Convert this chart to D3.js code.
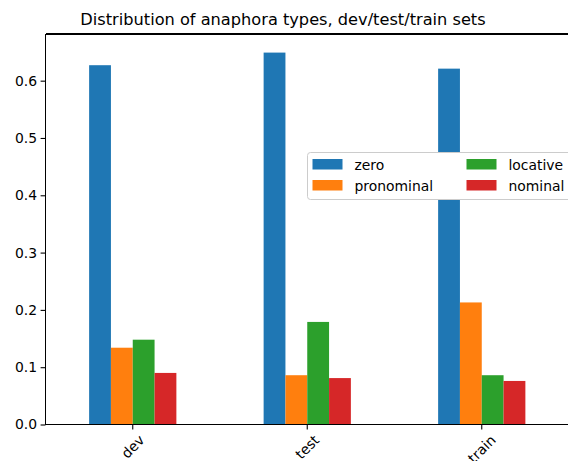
<!DOCTYPE html>
<html>
<head>
<meta charset="utf-8">
<script src="https://cdn.jsdelivr.net/npm/d3@7"></script>
<style>
  body { margin: 0; background: #fff; }
  svg { display: block; font-family: "DejaVu Sans", sans-serif; }
</style>
</head>
<body>
<div id="canvas"></div>
<script>
var W = 568, H = 461;
var m = {t: 34, r: -1, b: 36.5, l: 45.5};

// data
var sets = ['dev', 'test', 'train'];
var types = ['zero', 'pronominal', 'locative', 'nominal'];
var zero = [0.627, 0.649, 0.621];
var pronominal = [0.134, 0.086, 0.213];
var locative = [0.148, 0.179, 0.086];
var nominal = [0.090, 0.081, 0.076];
var yTicks = [0, 0.1, 0.2, 0.3, 0.4, 0.5, 0.6];
var colors = ['#1f77b4', '#ff7f0e', '#2ca02c', '#d62728'];

var series = [zero, pronominal, locative, nominal];
var rows = sets.map(function(s, i){
    return {set: s, values: types.map(function(t, j){ return {type: t, v: series[j][i]}; })};
});

var svg = d3.select('#canvas').append('svg')
    .attr('width', W).attr('height', H);

var x = d3.scaleBand().domain(sets).range([m.l, W - m.r]).padding(0);
var x1 = d3.scaleBand().domain(types)
    .range([x.bandwidth() * 0.25, x.bandwidth() * 0.75]).padding(0);
var ymax = d3.max(series, function(s){ return d3.max(s); }) * 1.05;
var y = d3.scaleLinear().domain([0, ymax]).range([H - m.b, m.t]);
var color = d3.scaleOrdinal().domain(types).range(colors);

// bars
var g = svg.selectAll('.grp').data(rows).enter().append('g')
    .attr('class', 'grp')
    .attr('transform', function(d){ return 'translate(' + x(d.set) + ',0)'; });
g.selectAll('rect').data(function(d){ return d.values; }).enter().append('rect')
    .attr('x', function(d){ return x1(d.type); })
    .attr('width', x1.bandwidth())
    .attr('y', function(d){ return y(d.v); })
    .attr('height', function(d){ return y(0) - y(d.v); })
    .attr('fill', function(d){ return color(d.type); });

// y axis
var yAxis = svg.append('g')
    .attr('transform', 'translate(' + m.l + ',0)')
    .call(d3.axisLeft(y).tickValues(yTicks).tickFormat(d3.format('.1f'))
        .tickSize(4.9).tickPadding(3.5));
yAxis.select('.domain').remove();
yAxis.selectAll('line').attr('stroke', '#000').attr('stroke-width', 1.1);
yAxis.selectAll('text').attr('font-size', '13.9px').attr('fill', '#000')
    .attr('font-family', 'DejaVu Sans');

// x axis ticks
var xAxis = svg.append('g')
    .attr('transform', 'translate(0,' + (H - m.b) + ')')
    .call(d3.axisBottom(x).tickSize(4.9).tickFormat(''));
xAxis.select('.domain').remove();
xAxis.selectAll('line').attr('stroke', '#000').attr('stroke-width', 1.1);

// rotated x labels, bbox centred on tick
sets.forEach(function(s){
    var t = svg.append('text').text(s)
        .attr('font-size', '13.9px').attr('fill', '#000')
        .attr('text-anchor', 'middle').attr('dominant-baseline', 'central');
    var w = t.node().getComputedTextLength(), hh = 13;
    var bh = (w + hh) * Math.SQRT1_2;
    var cx = x(s) + x.bandwidth() / 2;
    var cy = H - m.b + 4.9 + 3.5 + bh / 2;
    t.attr('transform', 'translate(' + cx + ',' + cy + ') rotate(-45)');
});

// spines
var sp = svg.append('g').attr('stroke', '#000').attr('stroke-width', 1.1)
    .attr('fill', 'none').attr('shape-rendering', 'crispEdges');
sp.append('line').attr('x1', m.l).attr('x2', m.l).attr('y1', m.t).attr('y2', H - m.b);
sp.append('line').attr('x1', m.l).attr('x2', W).attr('y1', m.t).attr('y2', m.t);
sp.append('line').attr('x1', m.l).attr('x2', W).attr('y1', H - m.b).attr('y2', H - m.b);

// title
svg.append('text').attr('x', 283).attr('y', 25)
    .attr('text-anchor', 'middle').attr('font-size', '16.2px').attr('fill', '#000')
    .text('Distribution of anaphora types, dev/test/train sets');

// legend
var lg = svg.append('g').attr('transform', 'translate(307.5,152.5)');
lg.append('rect').attr('width', 265).attr('height', 47).attr('rx', 3)
    .attr('fill', '#fff')
    .attr('stroke', '#cccccc').attr('stroke-width', 1);
var li = lg.selectAll('.li').data(types).enter().append('g')
    .attr('transform', function(d, i){
        return 'translate(' + (i < 2 ? 5 : 159) + ',' + (i % 2 === 0 ? 6.5 : 27.5) + ')';
    });
li.append('rect').attr('width', 30).attr('height', 10.5)
    .attr('fill', function(d){ return color(d); });
li.append('text').attr('x', 42).attr('y', 5.5).attr('dominant-baseline', 'central')
    .attr('font-size', '13.9px').attr('fill', '#000')
    .text(function(d){ return d; });
</script>
</body>
</html>
